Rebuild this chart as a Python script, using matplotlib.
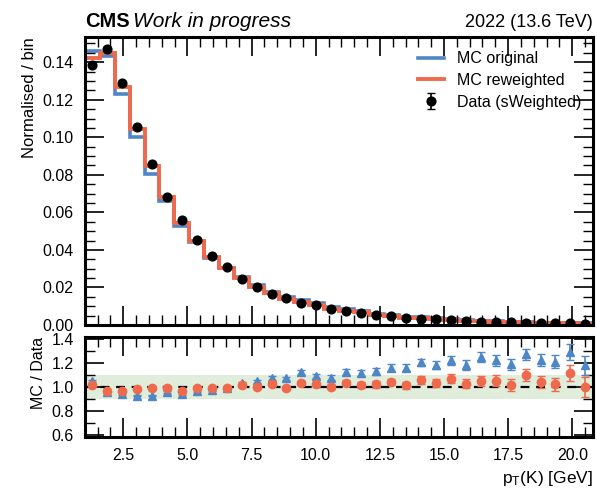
"""
MC vs sWeighted data comparison of kaon pT, with MC/Data ratio panel.
"""

import numpy as np
import matplotlib
matplotlib.use("Agg")
import matplotlib.pyplot as plt
from matplotlib.ticker import MultipleLocator

# --- Data ---
bin_edges = np.linspace(1.0, 20.8, 35)

data_sw = [0.1385, 0.147, 0.1287, 0.1057, 0.0856, 0.0684, 0.0558, 0.0451, 0.0366, 0.0307,
           0.0246, 0.0205, 0.0165, 0.0142, 0.0120, 0.0106, 0.0088, 0.0074, 0.0066, 0.0052,
           0.0047, 0.0039, 0.0034, 0.0033, 0.0025, 0.0022, 0.0018, 0.0016, 0.0014, 0.0012,
           0.0011, 0.0010, 0.0009, 0.0008]
data_err = [0.0006, 0.0006, 0.0006, 0.0005, 0.0005, 0.0004, 0.0004, 0.0004, 0.0003, 0.0003,
            0.0003, 0.0003, 0.0002, 0.0002, 0.0002, 0.0002, 0.0002, 0.0002, 0.0002, 0.0001,
            0.0001, 0.0001, 0.0001, 0.0001, 0.0001, 0.0001, 0.0001, 0.0001, 0.0001, 0.0001,
            0.0001, 0.0001, 0.0001, 0.0001]

mc_original = [0.146, 0.1435, 0.1233, 0.1003, 0.0806, 0.0662, 0.0528, 0.0443, 0.0358, 0.0305,
               0.0255, 0.0215, 0.0178, 0.0152, 0.0135, 0.0116, 0.0095, 0.0083, 0.0074, 0.0059,
               0.0055, 0.0045, 0.0041, 0.0039, 0.0031, 0.0026, 0.0022, 0.0020, 0.0017, 0.0015,
               0.0013, 0.0012, 0.0012, 0.0009]
mc_reweighted = [0.142, 0.145, 0.127, 0.1043, 0.0845, 0.068, 0.0545, 0.0447, 0.0362, 0.0304,
                 0.0250, 0.0205, 0.0168, 0.0141, 0.0124, 0.0108, 0.0088, 0.0077, 0.0067, 0.0053,
                 0.0049, 0.0040, 0.0036, 0.0034, 0.0027, 0.0023, 0.0019, 0.0017, 0.0014, 0.0013,
                 0.0011, 0.0010, 0.0010, 0.0008]

ratio_original = [1.048, 0.955, 0.940, 0.928, 0.928, 0.960, 0.940, 0.968, 0.976, 0.990,
                  1.030, 1.048, 1.075, 1.070, 1.123, 1.093, 1.075, 1.123, 1.115, 1.128,
                  1.160, 1.160, 1.203, 1.181, 1.221, 1.181, 1.248, 1.221, 1.187, 1.270,
                  1.221, 1.208, 1.290, 1.180]
ratio_reweighted = [1.016, 0.968, 0.968, 0.980, 0.987, 0.990, 0.968, 0.990, 0.990, 0.990,
                    1.016, 1.003, 1.021, 0.995, 1.035, 1.021, 1.000, 1.035, 1.013, 1.021,
                    1.040, 1.013, 1.056, 1.035, 1.067, 1.027, 1.048, 1.053, 1.016, 1.101,
                    1.043, 1.021, 1.115, 1.000]
ratio_err = [0.006, 0.006, 0.006, 0.007, 0.007, 0.008, 0.008, 0.009, 0.010, 0.011,
             0.012, 0.013, 0.014, 0.016, 0.017, 0.018, 0.020, 0.022, 0.024, 0.026,
             0.028, 0.030, 0.032, 0.034, 0.036, 0.040, 0.042, 0.044, 0.046, 0.048,
             0.050, 0.055, 0.065, 0.080]

# --- Style ---
BLUE = "#4f86c6"
RED = "#ef6a4c"
plt.rcParams["font.family"] = ["Liberation Sans", "DejaVu Sans"]
plt.rcParams["mathtext.default"] = "regular"
plt.rcParams["font.size"] = 12


def style_axis(ax):
    for sp in ax.spines.values():
        sp.set_linewidth(2.2)
    ax.tick_params(which="both", direction="in", top=True, right=True)
    ax.tick_params(which="major", length=14, width=1.2, labelsize=11.5, pad=8)
    ax.tick_params(which="minor", length=7, width=1.0)
    ax.xaxis.set_major_locator(MultipleLocator(2.5))
    ax.xaxis.set_minor_locator(MultipleLocator(0.5))


centers = 0.5 * (bin_edges[1:] + bin_edges[:-1])

fig = plt.figure(figsize=(5.97, 4.91), dpi=100)
ax = fig.add_axes([0.142, 0.338, 0.851, 0.587])
rax = fig.add_axes([0.142, 0.110, 0.851, 0.204], sharex=ax)

# --- Main panel ---
ax.stairs(mc_original, bin_edges, color=BLUE, lw=2.6, label="MC original")
ax.stairs(mc_reweighted, bin_edges, color=RED, lw=2.8, label="MC reweighted")
ax.errorbar(centers, data_sw, yerr=data_err, fmt="o", color="black", ms=6.3,
            capsize=3, elinewidth=1.2, label="Data (sWeighted)")
ax.set_xlim(bin_edges[0], bin_edges[-1])
ax.set_ylim(0, 0.1535)
ax.yaxis.set_major_locator(MultipleLocator(0.02))
ax.yaxis.set_minor_locator(MultipleLocator(0.005))
style_axis(ax)
ax.tick_params(labelbottom=False)
ax.set_ylabel("Normalised / bin", loc="top", fontsize=12)
ax.legend(loc="upper right", frameon=False, fontsize=11.5, handlelength=1.6,
          handletextpad=0.8, labelspacing=0.42, bbox_to_anchor=(1.005, 1.0))

# --- Header ---
ax.text(0.0, 1.02, "CMS", transform=ax.transAxes, fontsize=14.5,
        fontweight="bold", va="bottom", ha="left")
ax.text(0.094, 1.02, "Work in progress", transform=ax.transAxes, fontsize=15,
        style="italic", va="bottom", ha="left")
ax.text(1.0, 1.02, "2022 (13.6 TeV)", transform=ax.transAxes, fontsize=13,
        va="bottom", ha="right")

# --- Ratio panel ---
rax.axhspan(0.9, 1.1, color="#d3e6cc", alpha=0.7, lw=0)
rax.axhline(1.0, color="black", lw=1.6, ls=(0, (4, 3)))
rax.errorbar(centers, ratio_original, yerr=ratio_err, fmt="^", color=BLUE, ms=6,
             capsize=3, elinewidth=1.2)
rax.errorbar(centers, ratio_reweighted, yerr=ratio_err, fmt="o", color=RED, ms=6,
             capsize=3, elinewidth=1.2)
rax.set_ylim(0.585, 1.415)
rax.yaxis.set_major_locator(MultipleLocator(0.2))
rax.yaxis.set_minor_locator(MultipleLocator(0.1))
style_axis(rax)
rax.set_ylabel("MC / Data", loc="top", fontsize=11.5)
rax.set_xlabel("$p_{T}$(K) [GeV]", loc="right", fontsize=12.5)

fig.savefig("out.png", dpi=100)
